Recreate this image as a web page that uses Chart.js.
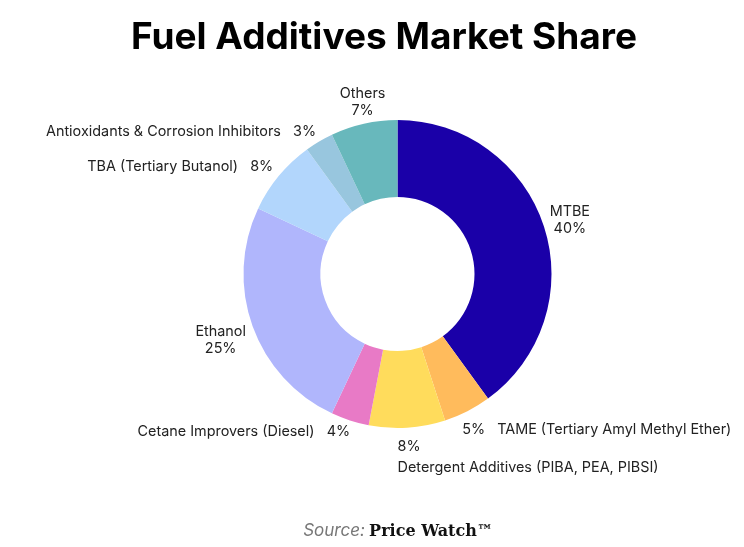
<!DOCTYPE html>
<html>
<head>
<meta charset="utf-8">
<script src="https://cdn.jsdelivr.net/npm/chart.js@4"></script>
<style>
  html, body { margin: 0; padding: 0; background: #fff; }
  #wrap { position: relative; width: 744px; height: 547px; }
  #title { position: absolute; left: 12px; top: 13px; width: 744px; text-align: center;
           font-family: Inter, sans-serif; font-weight: 700; font-size: 37px; color: #000; }
  #source { position: absolute; left: 3px; top: 520px; width: 790px; text-align: center; font-size: 17px; }
  #source .s { font-family: Inter, sans-serif; font-style: italic; color: #777; }
  #source .b { font-family: "DejaVu Serif", serif; font-weight: 700; color: #111; font-size: 16px; }
  canvas { position: absolute; left: 0; top: 0; }
</style>
</head>
<body>
<div id="wrap">
  <canvas id="fuelChart" width="744" height="547"></canvas>
  <div id="title">Fuel Additives Market Share</div>
  <div id="source"><span class="s">Source:</span> <span class="b">Price Watch™</span></div>
</div>
<script>
const categories = [
  'MTBE',
  'TAME (Tertiary Amyl Methyl Ether)',
  'Detergent Additives (PIBA, PEA, PIBSI)',
  'Cetane Improvers (Diesel)',
  'Ethanol',
  'TBA (Tertiary Butanol)',
  'Antioxidants & Corrosion Inhibitors',
  'Others'
];
const shares = [40, 5, 8, 4, 25, 8, 3, 7];
const colors = ['#1a00a8', '#ffbb5c', '#ffdc5c', '#e87ac6', '#b0b6fc', '#b2d6fc', '#98c6de', '#68b8bc'];

// how each outside label is laid out: which corner sits on the arc, value before/after, small nudges
const labelStyle = [
  { anchor: 'left-middle',   format: 'stack',           dx: 0,   dy: 0 },
  { anchor: 'left-top',      format: 'valueFirst',      dx: -8,  dy: 5 },
  { anchor: 'left-top',      format: 'stackValueFirst', dx: -10, dy: 2, lineH: 21 },
  { anchor: 'right-top',     format: 'inline',          dx: 2,   dy: -3 },
  { anchor: 'right-top',     format: 'stack',           dx: -1,  dy: -5 },
  { anchor: 'right-bottom',  format: 'inline',          dx: -1,  dy: 3 },
  { anchor: 'right-bottom',  format: 'inline',          dx: 0,   dy: 4 },
  { anchor: 'center-bottom', format: 'stack',           dx: 0,   dy: 1 }
];

const outsideLabels = {
  id: 'outsideLabels',
  afterDatasetsDraw(chart) {
    const ctx = chart.ctx;
    const meta = chart.getDatasetMeta(0);
    ctx.save();
    ctx.font = '14.4px Inter, sans-serif';
    ctx.fillStyle = '#222';
    ctx.textBaseline = 'middle';
    meta.data.forEach((arc, i) => {
      const p = arc.getProps(['x', 'y', 'startAngle', 'endAngle', 'outerRadius'], true);
      const mid = (p.startAngle + p.endAngle) / 2;
      const r = p.outerRadius + 6;
      const st = labelStyle[i];
      const lineH = st.lineH || 17;
      const ax = p.x + Math.cos(mid) * r + st.dx;
      const ay = p.y + Math.sin(mid) * r + st.dy;
      const pct = shares[i] + '%';
      let lines;
      if (st.format === 'stack') lines = [categories[i], pct];
      else if (st.format === 'stackValueFirst') lines = [pct, categories[i]];
      else if (st.format === 'valueFirst') lines = [pct + '   ' + categories[i]];
      else lines = [categories[i] + '   ' + pct];
      const w = Math.max(...lines.map(l => ctx.measureText(l).width));
      const h = lines.length * lineH;
      const [hz, vt] = st.anchor.split('-');
      let left = hz === 'left' ? ax : hz === 'right' ? ax - w : ax - w / 2;
      let top = vt === 'top' ? ay : vt === 'bottom' ? ay - h : ay - h / 2 - 4;
      const centered = st.format === 'stack';
      ctx.textAlign = centered ? 'center' : 'left';
      lines.forEach((l, k) => {
        const tx = centered ? left + w / 2 : left;
        ctx.fillText(l, tx, top + lineH * k + lineH / 2);
      });
    });
    ctx.restore();
  }
};

const data = {
  labels: categories,
  datasets: [{
    data: shares,
    backgroundColor: colors,
    borderWidth: 0
  }]
};

const config = {
  type: 'doughnut',
  data: data,
  options: {
    responsive: false,
    animation: false,
    cutout: '50%',
    layout: {
      padding: { left: 243, right: 192, top: 120, bottom: 119 }
    },
    plugins: {
      legend: { display: false },
      tooltip: { enabled: false }
    }
  },
  plugins: [outsideLabels]
};

new Chart(document.getElementById('fuelChart'), config);
</script>
</body>
</html>
